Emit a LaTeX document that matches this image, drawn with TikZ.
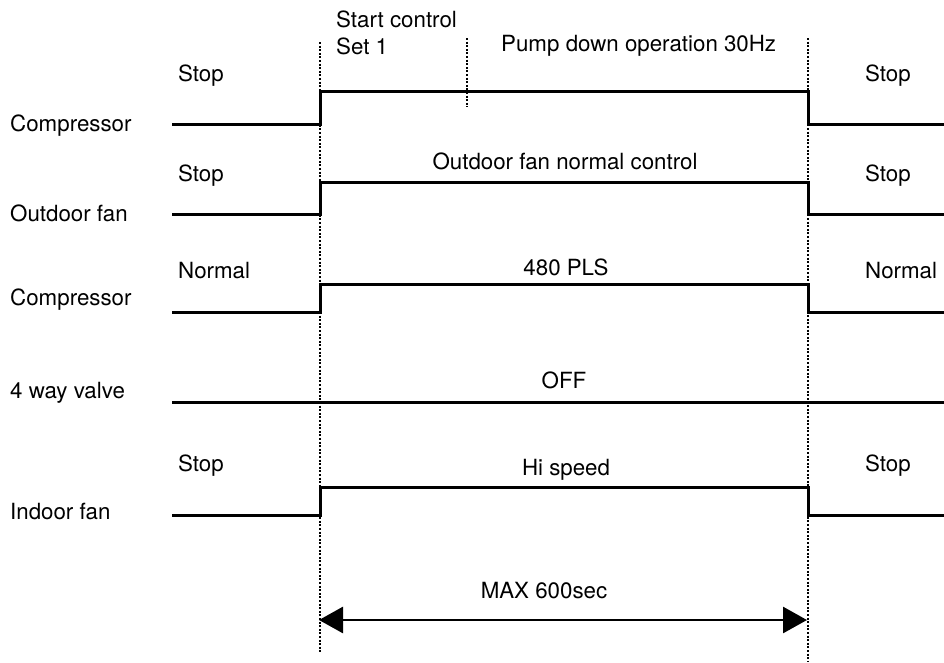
\documentclass[tikz,border=0pt]{standalone}
\usepackage{fontspec}
\setmainfont{TeX Gyre Heros}
\usetikzlibrary{arrows.meta}
\begin{document}
\begin{tikzpicture}[x=1pt,y=-1pt,
  lbl/.style={inner sep=0pt,font=\fontsize{22.3}{26}\selectfont},
  lw/.style={lbl,anchor=base west},
  lc/.style={lbl,anchor=base},
  wave/.style={line width=3pt,line join=miter},
  dotline/.style={line width=2.6pt,dash pattern=on 2pt off 1.6pt},
  dimarrow/.style={line width=2.8pt,{Triangle[length=24pt,width=26pt]}-{Triangle[length=24pt,width=26pt]}}]
\useasboundingbox (0,0) rectangle (944,662);
% dotted time markers
\coordinate (d1t) at (320,42);  \coordinate (d1b) at (320,652);
\coordinate (d2t) at (808,38);  \coordinate (d2b) at (808,662);
\coordinate (d3t) at (467,38);  \coordinate (d3b) at (467,107);
\draw[dotline] (d1t) -- (d1b);
\draw[dotline] (d2t) -- (d2b);
\draw[dotline] (d3t) -- (d3b);
% top labels
\node[lw] (sc) at (336,27) {Start control};
\node[lw] (s1) at (336,54) {Set 1};
\node[lw] (pd) at (501,51) {Pump down operation 30Hz};
% row labels
\node[lw] (r1) at (10,131) {Compressor};
\node[lw] (r2) at (10,221) {Outdoor fan};
\node[lw] (r3) at (10,305) {Compressor};
\node[lw] (r4) at (10,398) {4 way valve};
\node[lw] (r5) at (10,519) {Indoor fan};
% state labels left
\node[lw] (l1) at (178,81) {Stop};
\node[lw] (l2) at (178,181) {Stop};
\node[lw] (l3) at (178,278) {Normal};
\node[lw] (l5) at (178,471) {Stop};
% state labels right
\node[lw] (q1) at (865,81) {Stop};
\node[lw] (q2) at (865,181) {Stop};
\node[lw] (q3) at (865,278) {Normal};
\node[lw] (q5) at (865,471) {Stop};
% middle labels
\node[lc] (m2) at (565,169) {Outdoor fan normal control};
\node[lc] (m3) at (566,275) {480 PLS};
\node[lc] (m4) at (564,388) {OFF};
\node[lc] (m5) at (566,475) {Hi speed};
\node[lc] (mx) at (544,598) {MAX 600sec};
% waveforms
\draw[wave] (172,124) -- (320,124) -- (320,91) -- (808,91) -- (808,124) -- (944,124);
\draw[wave] (172,214) -- (320,214) -- (320,182) -- (808,182) -- (808,214) -- (944,214);
\draw[wave] (172,312) -- (320,312) -- (320,284) -- (808,284) -- (808,312) -- (944,312);
\draw[wave] (172,402) -- (944,402);
\draw[wave] (172,515) -- (320,515) -- (320,487) -- (808,487) -- (808,515) -- (944,515);
% duration arrow
\coordinate (al) at (319,620);
\coordinate (ar) at (807,620);
\draw[dimarrow] (al) -- (ar);
\end{tikzpicture}
\end{document}
